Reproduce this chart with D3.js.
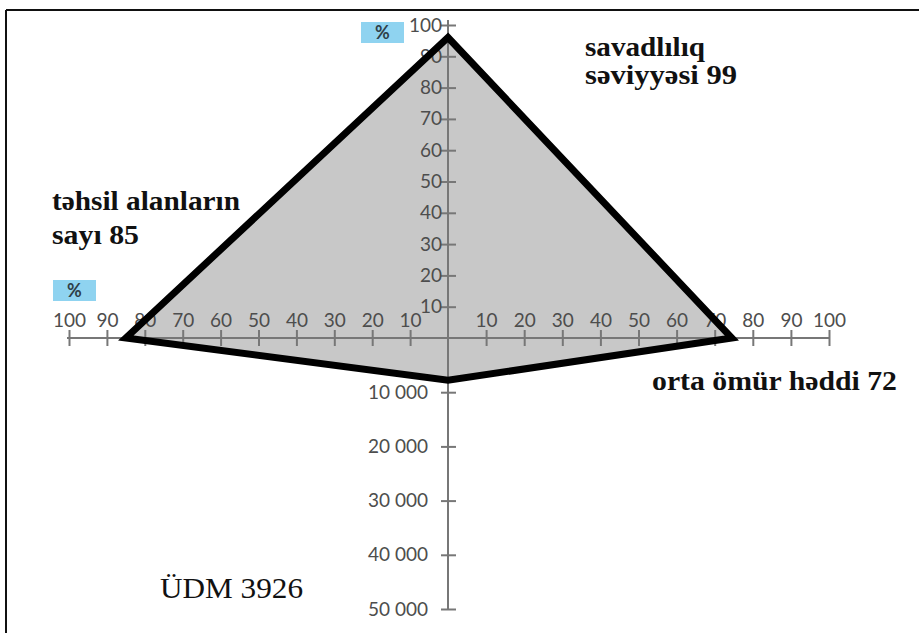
<!DOCTYPE html>
<html><head><meta charset="utf-8">
<script src="https://cdn.jsdelivr.net/npm/d3@7"></script>
<style>
html,body{margin:0;padding:0;background:#fff;}
svg{display:block;}
</style></head>
<body>
<script>
// ---- data ----
const axisNames = ["savadlılıq səviyyəsi", "orta ömür həddi", "ÜDM", "təhsil alanların sayı"];
const literacy = 96;        // top axis (%)
const lifeExpectancy = 74.5; // right axis
const gdp = 7800;           // bottom axis
const enrollment = 85;      // left axis (%)
const pctTicks = [10,20,30,40,50,60,70,80,90,100];
const gdpTicks = [10000,20000,30000,40000,50000];
const gdpTickLabels = ["10 000","20 000","30 000","40 000","50 000"];
const labelTop = ["savadlılıq", "səviyyəsi 99"];
const labelLeft = ["təhsil alanların", "sayı 85"];
const labelRight = ["orta ömür həddi 72"];
const labelBottom = ["ÜDM 3926"];

const W = 919, H = 633;
const svg = d3.select("body").append("svg").attr("width", W).attr("height", H);

// frame (top and left only visible)
svg.append("line").attr("x1",6).attr("x2",W).attr("y1",10).attr("y2",10).attr("stroke","#111").attr("stroke-width",2);
svg.append("line").attr("x1",6).attr("x2",6).attr("y1",10).attr("y2",H).attr("stroke","#111").attr("stroke-width",2);

const cx = 448, cy = 338;
const xRight = d3.scaleLinear().domain([0,100]).range([cx, 829]);
const xLeft  = d3.scaleLinear().domain([0,100]).range([cx, 69]);
const yTop   = d3.scaleLinear().domain([0,100]).range([cy, 25]);
const yBot   = d3.scaleLinear().domain([0,50000]).range([cy, 609]);

const pts = [
  [cx, yTop(literacy)],
  [xRight(lifeExpectancy), cy],
  [cx, yBot(gdp)],
  [xLeft(enrollment), cy]
];

// fill
svg.append("path").attr("d", d3.line()(pts) + "Z").attr("fill", "#c8c8c8").attr("stroke","none");

const axisColor = "#777", labColor = "#4d4d4d";
const tickFont = "Lato, 'Open Sans', sans-serif";

function styleAxis(g){
  g.select(".domain").remove();
  g.selectAll("line").attr("stroke", axisColor).attr("stroke-width", 2);
  g.selectAll("text").attr("fill", labColor).attr("font-family", tickFont).attr("font-size", 19);
}

// main axis lines
svg.append("line").attr("x1",67).attr("x2",830).attr("y1",cy).attr("y2",cy).attr("stroke",axisColor).attr("stroke-width",2);
svg.append("line").attr("x1",cx).attr("x2",cx).attr("y1",20).attr("y2",609).attr("stroke",axisColor).attr("stroke-width",2);

// horizontal right
const gR = svg.append("g").attr("transform",`translate(0,${cy})`)
  .call(d3.axisTop(xRight).tickValues(pctTicks).tickFormat(d3.format("d")).tickSize(8).tickPadding(3));
styleAxis(gR);
gR.selectAll(".tick line").attr("y1", -8).attr("y2", 8);
// horizontal left
const gL = svg.append("g").attr("transform",`translate(0,${cy})`)
  .call(d3.axisTop(xLeft).tickValues(pctTicks).tickFormat(d3.format("d")).tickSize(8).tickPadding(3));
styleAxis(gL);
gL.selectAll(".tick line").attr("y1", -8).attr("y2", 8);
// vertical top
const gT = svg.append("g").attr("transform",`translate(${cx},0)`)
  .call(d3.axisLeft(yTop).tickValues(pctTicks).tickFormat(d3.format("d")).tickSize(7).tickPadding(0));
styleAxis(gT);
gT.selectAll(".tick line").attr("x1", -7).attr("x2", 8);
gT.selectAll(".tick text").attr("x", -6);
// vertical bottom
const gB = svg.append("g").attr("transform",`translate(${cx},0)`)
  .call(d3.axisLeft(yBot).tickValues(gdpTicks).tickFormat((d,i)=>gdpTickLabels[i]).tickSize(7).tickPadding(0));
styleAxis(gB);
gB.selectAll(".tick line").attr("x1", -7).attr("x2", 8);
gB.selectAll(".tick text").attr("x", -20);

// polygon outline on top
svg.append("path").attr("d", d3.line()(pts) + "Z").attr("fill", "none")
  .attr("stroke", "#000").attr("stroke-width", 7).attr("stroke-linejoin","miter");

// % boxes
function pctBox(x, y){
  svg.append("rect").attr("x",x).attr("y",y).attr("width",43).attr("height",21).attr("fill","#8fd3f0");
  svg.append("text").attr("x",x+21.5).attr("y",y+17).attr("text-anchor","middle")
    .attr("font-family",tickFont).attr("font-weight","bold").attr("font-size",18).attr("fill","#2f3f48").text("%");
}
pctBox(361, 22);
pctBox(53, 280);

// labels
function lbl(txt, x, y, w, bold, size){
  svg.append("text").attr("x",x).attr("y",y).attr("textLength", w).attr("lengthAdjust","spacingAndGlyphs")
    .attr("font-family","'Liberation Serif','Times New Roman',serif")
    .attr("font-weight", bold ? "bold" : "normal").attr("font-size", size).attr("fill","#111").text(txt);
}
lbl(labelTop[0], 585, 56, 120, true, 28);
lbl(labelTop[1], 585, 84, 152, true, 28);
lbl(labelLeft[0], 52, 210, 188, true, 28);
lbl(labelLeft[1], 52, 244, 87, true, 28);
lbl(labelRight[0], 652, 390, 245, true, 28);
lbl(labelBottom[0], 160, 598, 143, false, 29);
</script>
</body></html>
